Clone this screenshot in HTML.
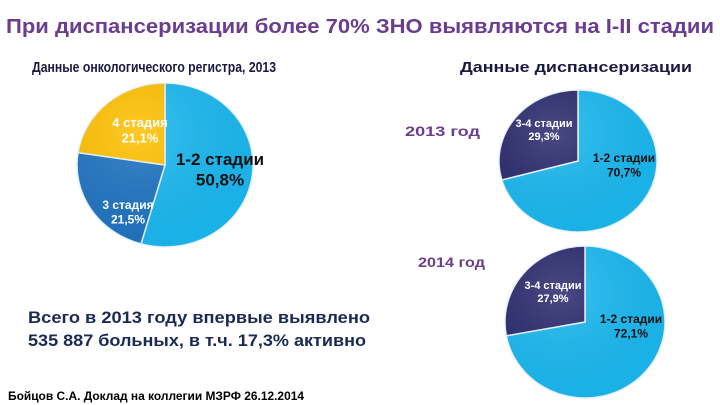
<!DOCTYPE html>
<html><head><meta charset="utf-8"><style>
html,body{margin:0;padding:0;background:#fff;width:720px;height:405px;overflow:hidden}
svg{display:block}
</style></head><body>
<svg width="720" height="405" viewBox="0 0 720 405" font-family="Liberation Sans, DejaVu Sans, sans-serif">
<defs>
<radialGradient id="sh" cx="0.35" cy="0.3" r="0.8"><stop offset="0" stop-color="#fff" stop-opacity="0.15"/><stop offset="1" stop-color="#000" stop-opacity="0.03"/></radialGradient>
</defs>
<text x="6" y="33" font-size="20" font-weight="bold" fill="#6a3d8f" textLength="708" lengthAdjust="spacingAndGlyphs">При диспансеризации более 70% ЗНО выявляются на I-II стадии</text>
<text x="32" y="72" font-size="15" font-weight="bold" fill="#1a1a40" textLength="244" lengthAdjust="spacingAndGlyphs">Данные онкологического регистра, 2013</text>
<text x="460" y="72" font-size="15" font-weight="bold" fill="#1a1a40" textLength="232" lengthAdjust="spacingAndGlyphs">Данные  диспансеризации</text>
<text x="405" y="136" font-size="14" font-weight="bold" fill="#6a3d8f" textLength="75" lengthAdjust="spacingAndGlyphs">2013 год</text>
<text x="418" y="267" font-size="14" font-weight="bold" fill="#6a3d8f" textLength="67" lengthAdjust="spacingAndGlyphs">2014 год</text>
<g id="pies"></g>
<text x="28" y="323" font-size="17" font-weight="bold" fill="#1a2a55" textLength="342" lengthAdjust="spacingAndGlyphs">Всего  в 2013 году впервые выявлено</text>
<text x="28" y="346" font-size="17" font-weight="bold" fill="#1a2a55" textLength="338" lengthAdjust="spacingAndGlyphs">535 887 больных, в т.ч. 17,3% активно</text>
<text x="8" y="400" font-size="12" font-weight="bold" fill="#000" textLength="296" lengthAdjust="spacingAndGlyphs">Бойцов С.А. Доклад на коллегии МЗРФ 26.12.2014</text>
</svg>
<script>
const pie1Labels=["1-2 стадии","3 стадия","4 стадия"];
const pie1Values=[50.8,21.5,21.1];
const pie2Labels=["1-2 стадии","3-4 стадии"];
const pie2Values=[70.7,29.3];
const pie3Labels=["1-2 стадии","3-4 стадии"];
const pie3Values=[72.1,27.9];
const NS="http://www.w3.org/2000/svg";
const g=document.getElementById('pies');
function pie(name,labels,values,colors,cx,cy,rx,ry,lab){
  const tot=values.reduce((a,b)=>a+b,0);
  let a0=0;
  const texts=[];
  values.forEach((v,i)=>{
    const a1=a0+v/tot*2*Math.PI;
    const x0=cx+rx*Math.sin(a0),y0=cy-ry*Math.cos(a0),x1=cx+rx*Math.sin(a1),y1=cy-ry*Math.cos(a1);
    const p=document.createElementNS(NS,'path');
    p.setAttribute('d',`M${cx},${cy}L${x0},${y0}A${rx},${ry} 0 ${a1-a0>Math.PI?1:0} 1 ${x1},${y1}Z`);
    p.setAttribute('fill',colors[i]);p.setAttribute('stroke','#e8f4ff');p.setAttribute('stroke-width','1.5');
    
    
    g.appendChild(p);
    const t=document.createElementNS(NS,'text');
    t.setAttribute('x',lab[i][0]);t.setAttribute('y',lab[i][1]);t.setAttribute('text-anchor','middle');
    t.setAttribute('font-size',lab[i][2]);t.setAttribute('font-weight','bold');t.setAttribute('fill',lab[i][3]);
    
    
    const s1=document.createElementNS(NS,'tspan');s1.setAttribute('x',lab[i][0]);s1.textContent=labels[i];
    const s2=document.createElementNS(NS,'tspan');s2.setAttribute('x',lab[i][0]);s2.setAttribute('dy','1.2em');s2.textContent=String(values[i]).replace('.',',')+'%';
    t.appendChild(s1);t.appendChild(s2);
    texts.push(t);
    a0=a1;
  });
  const e=document.createElementNS(NS,'ellipse');
  e.setAttribute('cx',cx);e.setAttribute('cy',cy);e.setAttribute('rx',rx);e.setAttribute('ry',ry);e.setAttribute('fill','url(#sh)');
  
  
  g.appendChild(e);
  texts.forEach(t=>g.appendChild(t));
}
pie('pie-2013-registry',pie1Labels,pie1Values,['#1ab8f0','#1f74c2','#ffc000'],165,165,88,82,
  [[220,165,17,'#111'],[128,209,12,'#fff'],[140,127,13,'#fff']]);
pie('pie-2013-screening',pie2Labels,pie2Values,['#1ab8f0','#2b2a6e'],578,161,79,71,
  [[624,162,12,'#111'],[544,127,11,'#fff']]);
pie('pie-2014-screening',pie3Labels,pie3Values,['#1ab8f0','#2b2a6e'],585,322,80,76,
  [[631,323,12,'#111'],[553,289,11,'#fff']]);
</script>
</body></html>
